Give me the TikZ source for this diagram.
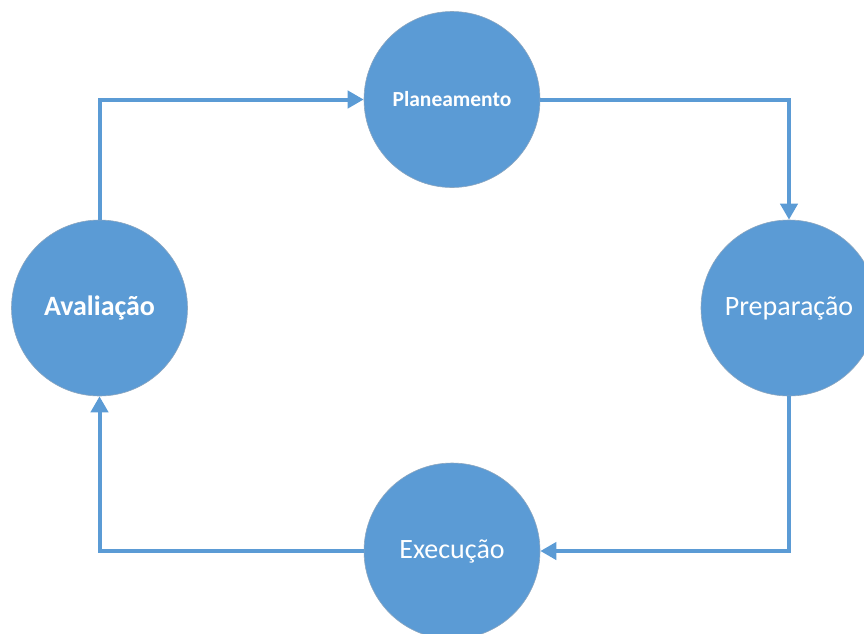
\documentclass[tikz,border=0pt]{standalone}
\usepackage{fontspec}
\setmainfont{Carlito}
\usetikzlibrary{arrows.meta}
\definecolor{cycleblue}{HTML}{5B9BD5}
\definecolor{rimgrey}{HTML}{8CA6BF}
\begin{document}
\begin{tikzpicture}[x=1pt,y=-1pt,
  phase/.style={circle,fill=cycleblue,draw=rimgrey,line width=0.6pt,
    minimum size=176pt,inner sep=0pt,text=white,font=\fontsize{28}{32}\selectfont},
  link/.style={draw=cycleblue,line width=4pt,
    -{Triangle[width=17pt,length=16pt]}}]
  \useasboundingbox (0,0) rectangle (864,633);
  % four phases of the cycle
  \node[phase,font=\fontsize{21.5}{25}\selectfont\bfseries] (plan) at (452,99.5) {Planeamento};
  \node[phase] (prep) at (789,308) {Preparação};
  \node[phase] (exec) at (452,551) {Execução};
  \node[phase,font=\fontsize{28}{32}\selectfont\bfseries] (aval) at (99.5,308) {Avaliação};
  % connectors running clockwise
  \draw[link] (aval.north) |- (plan.west);
  \draw[link] (plan.east) -| (prep.north);
  \draw[link] (prep.south) |- (exec.east);
  \draw[link] (exec.west) -| (aval.south);
\end{tikzpicture}
\end{document}
